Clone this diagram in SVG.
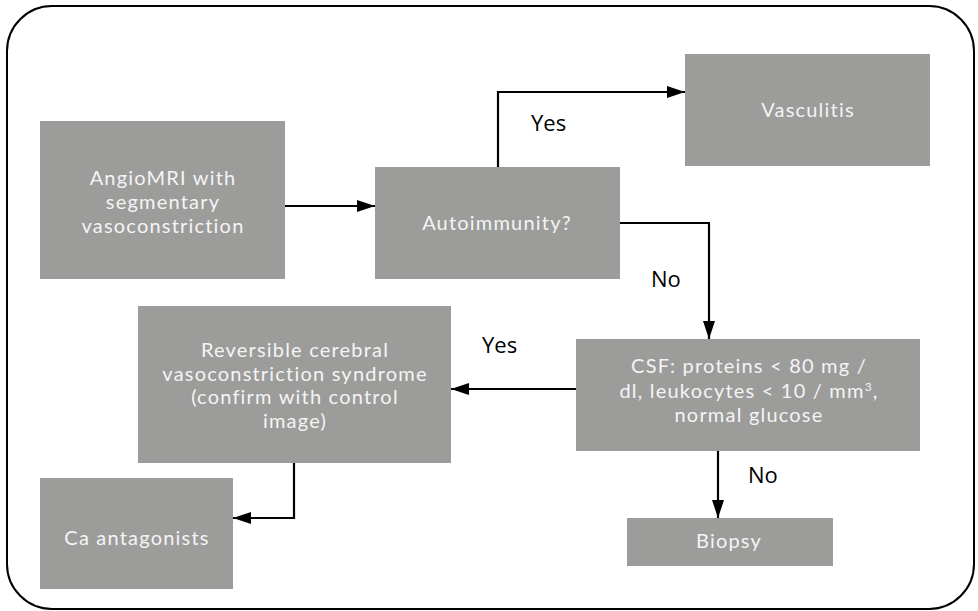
<svg xmlns="http://www.w3.org/2000/svg" width="978" height="611" viewBox="0 0 978 611">
<style>
.box{fill:#9c9c9b;}
.t{font-family:Lato,"Open Sans","Liberation Sans",sans-serif;font-size:20px;letter-spacing:1.2px;fill:#f4f4f4;text-anchor:middle;}
.lbl{font-family:"Open Sans","Liberation Sans",sans-serif;font-size:22px;fill:#000;}
.c{fill:none;stroke:#000;stroke-width:2.2;}
</style>
<defs>
<marker id="ahb" viewBox="0 0 18 12" refX="18" refY="6" markerWidth="18" markerHeight="12" orient="auto" markerUnits="userSpaceOnUse">
<path d="M0,0 L18,6 L0,12 Z" fill="#000"/>
</marker>
</defs>
<rect x="7" y="6" width="967" height="603" rx="45" ry="45" fill="none" stroke="#000" stroke-width="2"/>
<g id="connectors">
<path class="c" d="M285,206 H375" marker-end="url(#ahb)"/>
<path class="c" d="M498,167 V92 H685" marker-end="url(#ahb)"/>
<path class="c" d="M620,223 H709 V339" marker-end="url(#ahb)"/>
<path class="c" d="M576,389 H451" marker-end="url(#ahb)"/>
<path class="c" d="M294,463 V518 H233" marker-end="url(#ahb)"/>
<path class="c" d="M718,451 V518" marker-end="url(#ahb)"/>
<text class="lbl" x="531" y="131">Yes</text>
<text class="lbl" x="651" y="287">No</text>
<text class="lbl" x="482" y="353">Yes</text>
<text class="lbl" x="748" y="483">No</text>
</g>
<g id="angio">
<rect class="box" x="40" y="121" width="245" height="158"/>
<text class="t" x="163" y="185">AngioMRI with</text>
<text class="t" x="163" y="209">segmentary</text>
<text class="t" x="163" y="233">vasoconstriction</text>
</g>
<g id="autoimmunity">
<rect class="box" x="375" y="167" width="245" height="112"/>
<text class="t" x="497" y="230">Autoimmunity?</text>
</g>
<g id="vasculitis">
<rect class="box" x="685" y="54" width="245" height="112"/>
<text class="t" x="808" y="117">Vasculitis</text>
</g>
<g id="csf">
<rect class="box" x="576" y="339" width="344" height="112"/>
<text class="t" x="749" y="373">CSF: proteins &lt; 80 mg /</text>
<text class="t" x="749" y="398">dl, leukocytes &lt; 10 / mm<tspan font-size="12" dy="-7">3</tspan><tspan dy="7">,</tspan></text>
<text class="t" x="749" y="422">normal glucose</text>
</g>
<g id="rcvs">
<rect class="box" x="138" y="306" width="313" height="157"/>
<text class="t" x="295" y="357">Reversible cerebral</text>
<text class="t" x="295" y="381">vasoconstriction syndrome</text>
<text class="t" x="295" y="404">(confirm with control</text>
<text class="t" x="295" y="428">image)</text>
</g>
<g id="ca">
<rect class="box" x="40" y="478" width="193" height="111"/>
<text class="t" x="137" y="545">Ca antagonists</text>
</g>
<g id="biopsy">
<rect class="box" x="627" y="518" width="206" height="48"/>
<text class="t" x="729" y="548">Biopsy</text>
</g>
</svg>
